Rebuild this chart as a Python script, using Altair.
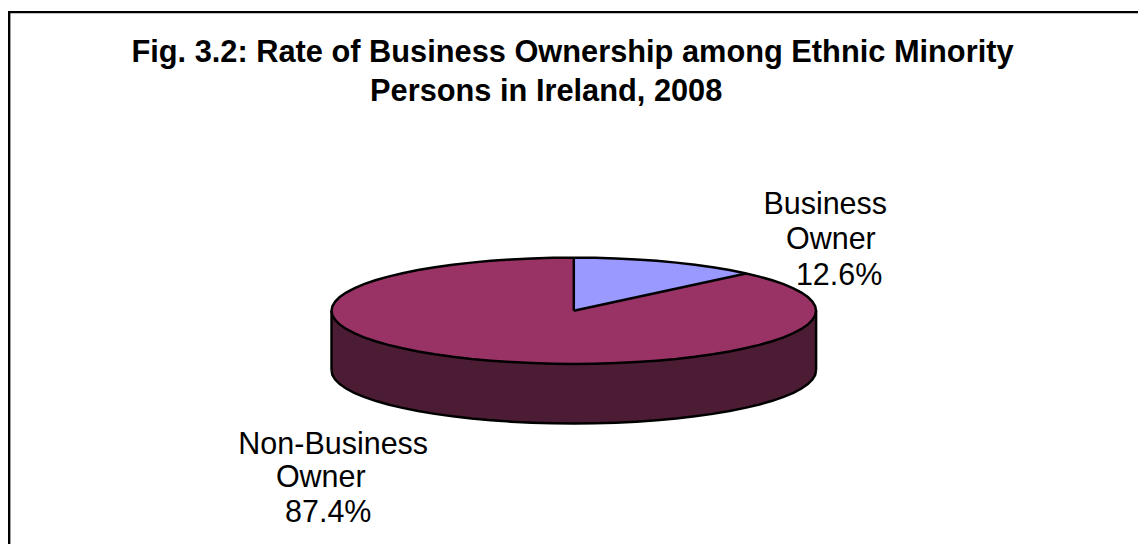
import altair as alt
import pandas as pd

categories = ["Business Owner", "Non-Business Owner"]
shares = [12.6, 87.4]
title_lines = ["Fig. 3.2: Rate of Business Ownership among Ethnic Minority",
               "Persons in Ireland, 2008"]
label_lines = ["Business", "Owner", "12.6%", "Non-Business", "Owner", "87.4%"]

W, H = 1138, 538
FONT = "Liberation Sans"
CX, CY, RX, RY, DEPTH_PX = 577.8, 311, 244, 53.5, 60
# one x unit = pie semi-major axis, one y unit = pie semi-minor axis
x_scale = alt.Scale(domain=[(8 - CX) / RX, (8 + W - CX) / RX], nice=False, zero=False)
y_scale = alt.Scale(domain=[(CY - 8 - H) / RY, (CY - 8) / RY], nice=False, zero=False)
DEPTH = DEPTH_PX / RY
theta = shares[0] / 100 * 360
LW = 2.5

X = lambda f: alt.X(f, type="quantitative", scale=x_scale, axis=None)
Y = lambda f: alt.Y(f, type="quantitative", scale=y_scale, axis=None)

half = alt.sequence(0, 1.001, 1 / 36, as_="t")
full = alt.sequence(0, 1.001, 1 / 72, as_="t")
fine = alt.sequence(0, 1.001, 1 / 40, as_="t")
ell = dict(px="-cos(PI*datum.t)", up="sin(PI*datum.t)")

side = alt.Chart(half).transform_calculate(**ell).transform_calculate(
    low=f"-datum.up-{DEPTH}", zero0="0"
).mark_area(color="#4C1C34", orient="vertical").encode(x=X("px"), y=Y("zero0"), y2=alt.Y2("low"))

top = alt.Chart(half).transform_calculate(**ell).transform_calculate(
    low="-datum.up"
).mark_area(color="#993366", orient="vertical").encode(x=X("px"), y=Y("up"), y2=alt.Y2("low"))

wedge = alt.Chart(fine).transform_calculate(
    rad=f"{theta}*PI/180",
    px="datum.t*sin(datum.rad)",
    up="sqrt(max(0,1-pow(datum.px,2)))",
    low="datum.t*cos(datum.rad)",
).mark_area(color="#9999FF", orient="vertical").encode(x=X("px"), y=Y("up"), y2=alt.Y2("low"))

outline = alt.Chart(full).transform_calculate(
    px="sin(2*PI*datum.t)", py="cos(2*PI*datum.t)"
).mark_line(color="black", strokeWidth=LW).encode(x=X("px"), y=Y("py"), order="t:Q")

bottom = alt.Chart(half).transform_calculate(**ell).transform_calculate(
    low=f"-datum.up-{DEPTH}"
).mark_line(color="black", strokeWidth=LW).encode(x=X("px"), y=Y("low"), order="t:Q")

edges = alt.Chart(pd.DataFrame({"side": [-1, 1]})).transform_calculate(
    y0="0", y1=f"-{DEPTH}"
).mark_rule(color="black", strokeWidth=LW).encode(x=X("side"), y=Y("y0"), y2=alt.Y2("y1"))

ends = pd.Series(shares).cumsum() / sum(shares)
spokes = alt.Chart(pd.DataFrame({"category": categories, "end": ends})).transform_calculate(
    cx="0", cy="0", ex="sin(2*PI*datum.end)", ey="cos(2*PI*datum.end)"
).mark_rule(color="black", strokeWidth=LW).encode(
    x=X("cx"), y=Y("cy"), x2=alt.X2("ex"), y2=alt.Y2("ey"))

frame_df = pd.DataFrame({"k": [0]})
frame_top = alt.Chart(frame_df).mark_rule(color="black", strokeWidth=2.4).encode(
    x=alt.value(0), x2=alt.value(W), y=alt.value(2.2))
frame_left = alt.Chart(frame_df).mark_rule(color="black", strokeWidth=2.4).encode(
    x=alt.value(1.2), y=alt.value(1), y2=alt.value(H))


def text_line(txt, cx, base, weight="normal", size=30.7):
    return alt.Chart(pd.DataFrame({"s": [txt]})).mark_text(
        font=FONT, fontSize=size, fontWeight=weight, color="black",
        align="center", baseline="alphabetic",
    ).encode(text="s:N", x=alt.value(cx - 8), y=alt.value(base - 8))


title_pos = [(576.5, 60), (550, 100)]
titles = [text_line(t, *p, weight="bold", size=31) for t, p in zip(title_lines, title_pos)]
label_pos = [(831, 214), (836.7, 249), (845, 285), (335.5, 455), (323, 488), (330.5, 524)]
labels = [text_line(t, *p) for t, p in zip(label_lines, label_pos)]

chart = alt.layer(
    frame_top, frame_left, side, top, wedge, bottom, edges, outline, spokes, *titles, *labels
).properties(
    width=W, height=H, padding=0,
    autosize=alt.AutoSizeParams(type="none"),
).configure_view(stroke=None)

chart.save("out.html", embed_options={"renderer": "svg", "actions": False})
